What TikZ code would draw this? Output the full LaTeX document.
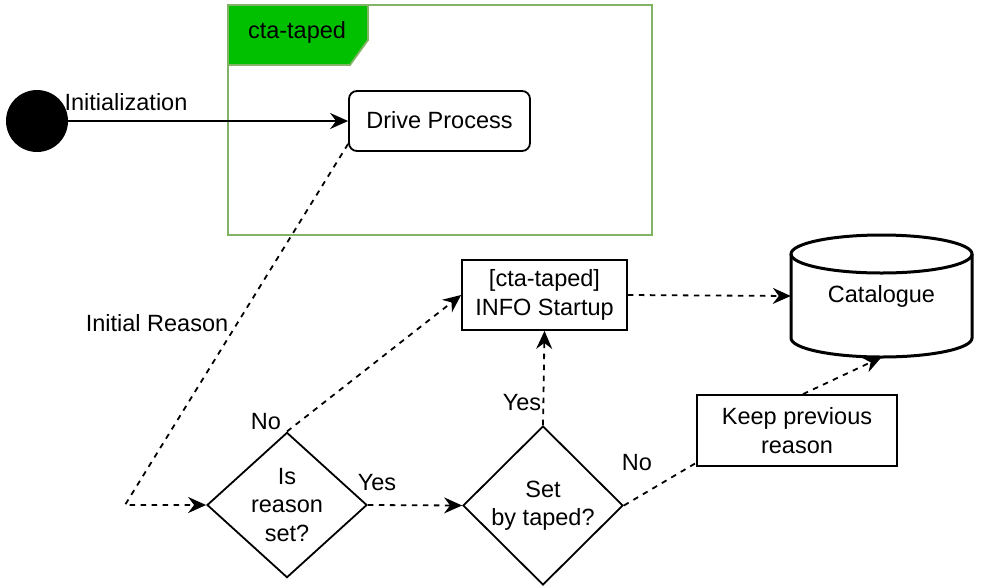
\documentclass[tikz,border=0pt]{standalone}
\usepackage{fontspec}
\setmainfont{Liberation Sans}
\usetikzlibrary{shapes.geometric,arrows.meta,calc}
\definecolor{frameg}{HTML}{82B366}
\definecolor{tabg}{HTML}{00C000}
\tikzset{
  lbl/.style={font=\fontsize{23.5}{29}\selectfont, inner sep=0pt},
  box/.style={draw, line width=1.8pt, font=\fontsize{23.5}{29}\selectfont, align=center, inner sep=0pt},
  dec/.style={draw, diamond, line width=1.8pt, font=\fontsize{23.5}{28.5}\selectfont, align=center, inner sep=0pt},
  dline/.style={line width=1.8pt, dash pattern=on 5.5pt off 5.5pt},
  arr/.style={-{Stealth[length=18pt,width=16pt,inset=6pt]}},
}
\begin{document}
\begin{tikzpicture}[x=1pt,y=-1pt]
\useasboundingbox (0,0) rectangle (981,587);
% frame
\draw[frameg, line width=1.8pt] (228,5) rectangle (652,235);
\draw[frameg, fill=tabg, line width=1.8pt] (228,5) -- (368,5) -- (368,40) -- (350,65) -- (228,65) -- cycle;
\node[lbl] (tabtxt) at (297,32) {cta-taped};
% nodes
\node[circle, fill=black, minimum size=62pt, inner sep=0pt] (start) at (37,121) {};
\node[box, rounded corners=8pt, minimum width=181pt, minimum height=60pt] (drive) at (439.5,121) {\raisebox{3pt}{Drive Process}};
\node[lbl] (initlbl) at (126,102) {Initialization};
\node[box, minimum width=165pt, minimum height=70pt] (info) at (544.5,295) {[cta-taped]\\INFO Startup};
\node[box, minimum width=200pt, minimum height=71pt] (keep) at (797,430.5) {Keep previous\\reason};
\node[dec, minimum width=160pt, minimum height=142pt] (d1) at (287,505) {Is\\reason\\set?};
\node[dec, minimum width=160pt, minimum height=159pt] (d2) at (543,505.5) {Set\\by taped?};
% catalogue cylinder
\draw[line width=3pt] (791,254) -- (791,338) arc[start angle=180, end angle=360, x radius=90.5, y radius=-19] -- (972,254);
\draw[line width=3pt] (881.5,254) ellipse[x radius=90.5, y radius=19];
\node[inner sep=0pt, minimum width=181pt, minimum height=122pt, font=\fontsize{23.5}{29}\selectfont] (cat) at (881.5,296) {\raisebox{5pt}{Catalogue}};
% labels
\node[lbl] (irl) at (157,323) {Initial Reason};
\node[lbl] (no1) at (266,422) {No};
\node[lbl] (yes1) at (377,483) {Yes};
\node[lbl] (yes2) at (522,403) {Yes};
\node[lbl] (no2) at (637,463) {No};
\coordinate (bend) at (125,505);
% connectors
\draw[line width=1.8pt, arr] (start) -- (drive);
\draw[dline, arr] ($(drive.south west)+(0,-8)$) -- (bend) -- (d1.west);
\draw[dline, arr] (d1.north) -- (info.west);
\draw[dline, arr] (d1.east) -- (d2.west);
\draw[dline, arr] (d2.north) -- (info.south);
\draw[dline] (d2.east) -- ($(keep.south west)+(0,-4)$);
\draw[dline, arr] ($(keep.north)+(6,0)$) -- (cat.south);
\draw[dline, arr] (info.east) -- (cat.west);
\end{tikzpicture}
\end{document}
